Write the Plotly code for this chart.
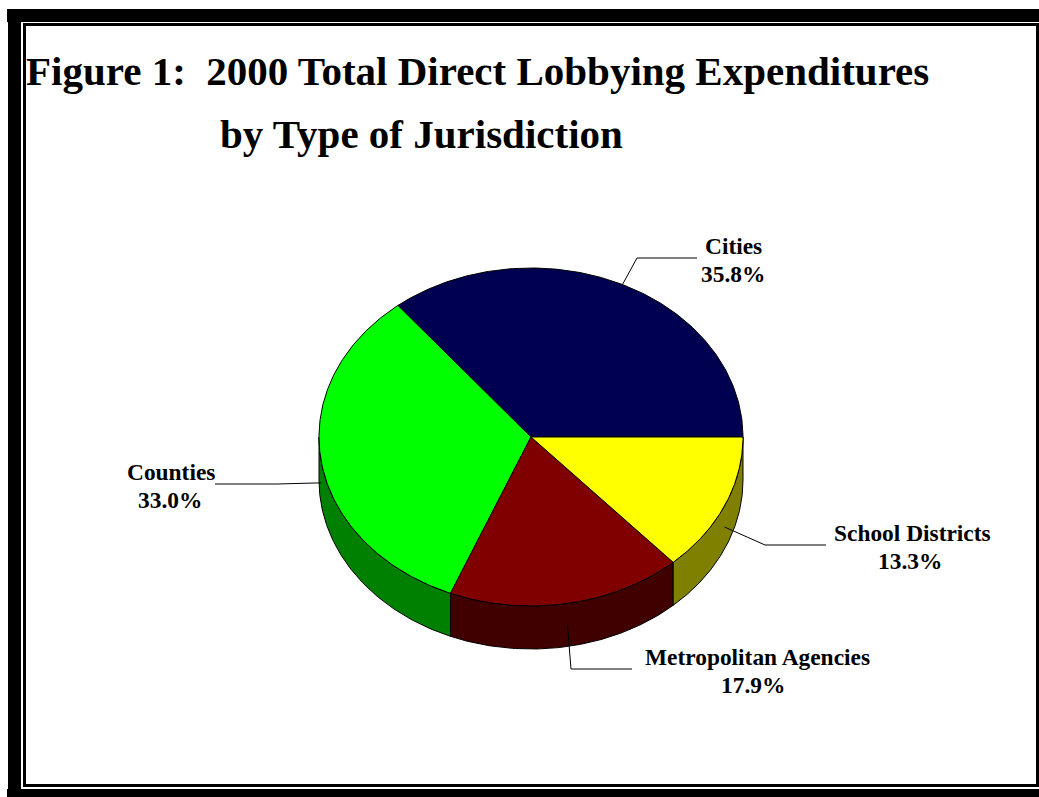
import numpy as np
import plotly.graph_objects as go

# Data
categories = ["Cities", "Counties", "Metropolitan Agencies", "School Districts"]
shares = [35.8, 33.0, 17.9, 13.3]
share_labels = ["35.8%", "33.0%", "17.9%", "13.3%"]
title_lines = ["Figure 1:  2000 Total Direct Lobbying Expenditures", "by Type of Jurisdiction"]

# Styles
top_colors = ["#000050", "#00FF00", "#800000", "#FFFF00"]
side_colors = ["#000028", "#008000", "#400000", "#808000"]
W, H = 1039, 797
CX, CY, RX, RY, DEPTH = 531, 437, 212, 169, 43
FONT = "Liberation Serif"

# Label layout (pixel positions of the text, and the leader's elbow and end)
label_pos = [(733, 246), (171, 472), (757, 657), (912, 533)]
pct_x = [733, 169.5, 752.5, 910]
LINE_GAP = 28
elbows = [((637, 258), (697, 258)), ((277, 484), (215, 484)),
          ((571, 669), (632, 669)), ((765, 545), (826, 545))]


def ell(deg, dz=0.0):
    t = np.radians(deg)
    return CX + RX * np.cos(t), CY - RY * np.sin(t) + dz


fig = go.Figure()
fracs = np.array(shares) / sum(shares) * 360
starts = np.concatenate([[0], np.cumsum(fracs)[:-1]])
ends = starts + fracs


def add_poly(xs, ys, fill):
    fig.add_trace(go.Scatter(x=xs, y=ys, mode="lines", fill="toself", fillcolor=fill,
                             line=dict(color="black", width=1), hoverinfo="skip", showlegend=False))


# side wall: the part of each slice in the lower half of the ellipse
for s, e, c in zip(starts, ends, side_colors):
    lo, hi = max(s, 180), min(e, 360)
    if hi <= lo:
        continue
    a = np.linspace(lo, hi, 90)
    x1, y1 = ell(a)
    x2, y2 = ell(a[::-1], DEPTH)
    add_poly(np.r_[x1, x2, x1[0]], np.r_[y1, y2, y1[0]], c)

# top face
for s, e, c in zip(starts, ends, top_colors):
    a = np.linspace(s, e, 180)
    x1, y1 = ell(a)
    add_poly(np.r_[CX, x1, CX], np.r_[CY, y1, CY], c)

# leaders
for s, e, (p1, p2) in zip(starts, ends, elbows):
    m = (s + e) / 2
    dz = DEPTH / 2 if 180 < m < 360 else 0
    x0, y0 = ell(m, dz)
    fig.add_trace(go.Scatter(x=[x0, p1[0], p2[0]], y=[y0, p1[1], p2[1]], mode="lines",
                             line=dict(color="black", width=1), hoverinfo="skip", showlegend=False))

annotations = []
for cat, lab, (x, y), px in zip(categories, share_labels, label_pos, pct_x):
    for txt, xx, yy in ((cat, x, y), (lab, px, y + LINE_GAP)):
        annotations.append(dict(x=xx, y=yy, text=f"<b>{txt}</b>", showarrow=False,
                                xref="x", yref="y", xanchor="center", yanchor="middle",
                                align="center", font=dict(family=FONT, size=23.4, color="black")))
for line, (x, y) in zip(title_lines, [(24, 71), (218, 134)]):
    annotations.append(dict(x=x, y=y, text=f"<b>{line}</b>", showarrow=False, xref="x", yref="y",
                            xanchor="left", yanchor="middle",
                            font=dict(family=FONT, size=41, color="black")))


def rect(x0, y0, x1, y1):
    return dict(type="rect", xref="x", yref="y", x0=x0, y0=y0, x1=x1, y1=y1,
                fillcolor="black", line=dict(width=0), layer="below")


shapes = [
    rect(7, 9, W, 22), rect(8, 9, 21, 797), rect(7, 789, W, H),   # heavy outer frame
    rect(23, 23, W, 26), rect(23, 23, 26, 787), rect(23, 784, W, 787), rect(1036, 23, W, 787),  # thin inner frame
]

fig.update_layout(
    width=W, height=H, autosize=False, margin=dict(l=0, r=0, t=0, b=0),
    paper_bgcolor="white", plot_bgcolor="white", showlegend=False,
    xaxis=dict(range=[0, W], visible=False, fixedrange=True),
    yaxis=dict(range=[H, 0], visible=False, fixedrange=True),
    annotations=annotations, shapes=shapes,
)
fig.write_html("out.html", config={"displayModeBar": False},
               post_script="document.body.style.margin='0';document.documentElement.style.overflow='hidden';")
